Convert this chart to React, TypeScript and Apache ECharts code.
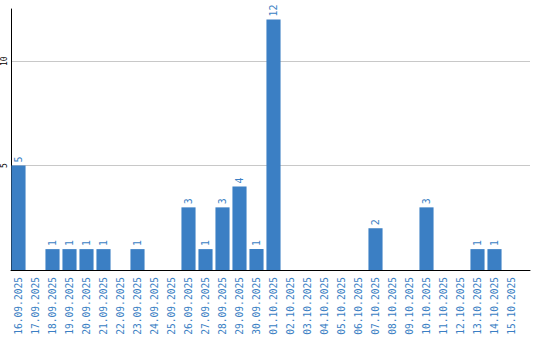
import React, { useEffect, useRef } from "react";
import * as echarts from "echarts";

const categories = [
  "16.09.2025", "17.09.2025", "18.09.2025", "19.09.2025", "20.09.2025",
  "21.09.2025", "22.09.2025", "23.09.2025", "24.09.2025", "25.09.2025",
  "26.09.2025", "27.09.2025", "28.09.2025", "29.09.2025", "30.09.2025",
  "01.10.2025", "02.10.2025", "03.10.2025", "04.10.2025", "05.10.2025",
  "06.10.2025", "07.10.2025", "08.10.2025", "09.10.2025", "10.10.2025",
  "11.10.2025", "12.10.2025", "13.10.2025", "14.10.2025", "15.10.2025",
];

const counts = [
  5, 0, 1, 1, 1, 1, 0, 1, 0, 0,
  3, 1, 3, 4, 1, 12, 0, 0, 0, 0,
  0, 2, 0, 0, 3, 0, 0, 1, 1, 0,
];

const yTicks = [0, 5, 10];
const Y_MAX = 12.5;

const BLUE = "#3b7fc4";
const FONT = "DejaVu Sans Mono";

export default function App() {
  const ref = useRef<HTMLDivElement>(null);
  useEffect(() => {
    if (!ref.current) return;
    const chart = echarts.init(ref.current, undefined, { renderer: "svg" });
    chart.setOption({
      animation: false,
      grid: [
        { left: 10, top: 9, width: 520, bottom: 70, containLabel: false },
        { left: 10, top: 9, width: 510, bottom: 70, containLabel: false },
      ],
      xAxis: [
        {
          type: "value",
          gridIndex: 0,
          min: 0,
          max: 1,
          axisLine: { show: true, onZero: false, lineStyle: { color: "#000", width: 1 } },
          axisTick: { show: false },
          axisLabel: { show: false },
          splitLine: { show: false },
        },
        {
          type: "category",
          gridIndex: 1,
          data: categories,
          axisLine: { show: false },
          axisTick: { show: false },
          axisLabel: {
            rotate: 90,
            interval: 0,
            margin: 7,
            color: BLUE,
            fontFamily: FONT,
            fontSize: 9.6,
          },
        },
      ],
      yAxis: [
        {
          type: "value",
          gridIndex: 0,
          min: 0,
          max: Y_MAX,
          interval: 5,
          axisLine: { show: true, lineStyle: { color: "#000", width: 1 } },
          axisTick: { show: false },
          splitLine: {
            show: true,
            showMinLine: false,
            showMaxLine: false,
            lineStyle: { color: "#c8c8c8", width: 1 },
          },
          axisLabel: {
            rotate: 90,
            margin: 3,
            color: "#000",
            fontFamily: FONT,
            fontSize: 8,
            showMaxLabel: false,
            showMinLabel: false,
            formatter: (v: number) => (yTicks.includes(v) ? String(v) : ""),
          },
        },
        {
          type: "value",
          gridIndex: 1,
          min: 0,
          max: Y_MAX,
          show: false,
          splitLine: { show: false },
        },
      ],
      series: [
        {
          type: "bar",
          xAxisIndex: 1,
          yAxisIndex: 1,
          data: counts,
          barCategoryGap: "17%",
          itemStyle: { color: BLUE },
          label: {
            show: true,
            position: "top",
            rotate: 90,
            align: "left",
            verticalAlign: "middle",
            distance: 3,
            color: BLUE,
            fontFamily: FONT,
            fontSize: 10,
            formatter: (p: any) => (p.value > 0 ? String(p.value) : ""),
          },
        },
      ],
    });
    return () => chart.dispose();
  }, []);
  return (
    <div
      ref={ref}
      style={{ position: "absolute", left: 0, top: 0, width: 540, height: 340 }}
    />
  );
}
